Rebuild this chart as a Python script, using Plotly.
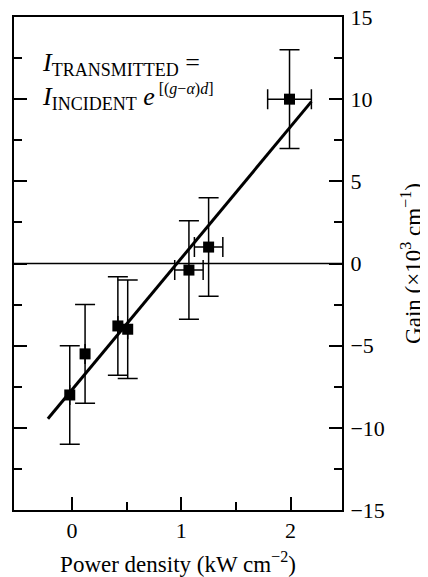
import plotly.graph_objects as go

# Data
power = [-0.02, 0.12, 0.42, 0.51, 1.07, 1.25, 1.99]
gain = [-8.0, -5.5, -3.8, -4.0, -0.4, 1.0, 10.0]
gain_err = [3.0, 3.0, 3.0, 3.0, 3.0, 3.0, 3.0]
power_err = [0, 0, 0, 0, 0.13, 0.13, 0.2]
fit_x = [-0.22, 2.19]
fit_y = [-9.45, 9.85]
zero_x = [-0.53, 2.47]
zero_y = [0, 0]

FONT = "Liberation Serif"

fig = go.Figure()
fig.add_trace(go.Scatter(x=zero_x, y=zero_y, mode="lines",
                         line=dict(color="black", width=1.5), showlegend=False,
                         hoverinfo="skip"))
fig.add_trace(go.Scatter(x=fit_x, y=fit_y, mode="lines",
                         line=dict(color="black", width=3), showlegend=False))
fig.add_trace(go.Scatter(
    x=power, y=gain, mode="markers",
    marker=dict(symbol="square", size=11, color="black"),
    error_y=dict(type="data", array=gain_err, visible=True, color="black",
                 thickness=1.5, width=10),
    error_x=dict(type="data", array=power_err, visible=True, color="black",
                 thickness=1.5, width=10),
    showlegend=False))

SUB = 'style="font-size:18px"'
SUP = 'style="font-size:16px"'
fig.add_annotation(
    xref="paper", yref="paper", x=0.08, y=0.905, xanchor="left", yanchor="middle",
    align="left", showarrow=False,
    text=f"<i>I</i><sub><span {SUB}>TRANSMITTED</span></sub> =",
    font=dict(family=FONT, size=26, color="black"))
fig.add_annotation(
    xref="paper", yref="paper", x=0.08, y=0.838, xanchor="left", yanchor="middle",
    align="left", showarrow=False,
    text=(f"<i>I</i><sub><span {SUB}>INCIDENT</span></sub> <i>e</i>"
          f"<sup><span {SUP}> [(<i>g</i>\u2212<i>\u03b1</i>)<i>d</i>]</span></sup>"),
    font=dict(family=FONT, size=26, color="black"))

fig.update_xaxes(
    range=[-0.53, 2.47], tickvals=[0, 1, 2], ticks="inside", ticklen=13,
    tickwidth=1.5, tickcolor="black", showline=True, linecolor="black",
    linewidth=2, mirror=True, showgrid=False, zeroline=False, automargin=False,
    ticklabeloverflow="allow",
    minor=dict(tickvals=[0.5, 1.5], ticks="inside", ticklen=8, tickwidth=1.5,
               tickcolor="black", showgrid=False),
    tickfont=dict(family=FONT, size=22, color="black"),
    title=dict(text="Power density (kW cm<sup>\u22122</sup>)",
               font=dict(family=FONT, size=23, color="black"), standoff=14))

fig.update_yaxes(
    side="right", range=[-15, 15], dtick=5, tick0=0, ticks="inside", ticklen=13,
    tickwidth=1.5, tickcolor="black", showline=True, linecolor="black",
    linewidth=2, mirror="ticks", showgrid=False, zeroline=False, automargin=False,
    ticklabeloverflow="allow",
    minor=dict(dtick=2.5, tick0=0, ticks="inside", ticklen=8, tickwidth=1.5,
               tickcolor="black", showgrid=False),
    tickfont=dict(family=FONT, size=22, color="black"),
    ticklabelstandoff=2,
    title=dict(text="Gain (\u00d710<sup>3</sup> cm<sup>\u22121</sup>)",
               font=dict(family=FONT, size=23, color="black"), standoff=21))

fig.update_layout(
    width=420, height=569, margin=dict(l=6, r=86, t=9, b=67),
    paper_bgcolor="white", plot_bgcolor="white",
    font=dict(family=FONT, color="black"))

fig.write_html("out.html")
